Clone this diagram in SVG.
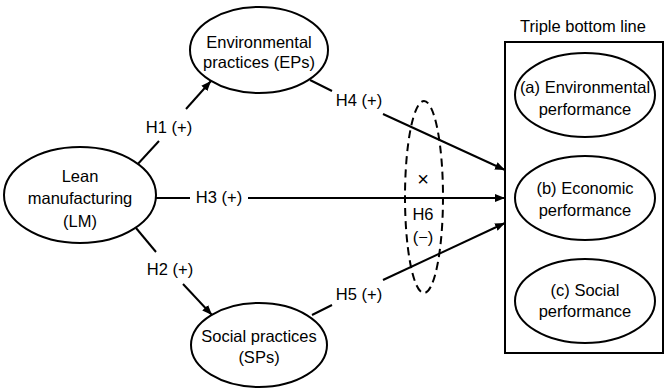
<svg xmlns="http://www.w3.org/2000/svg" width="666" height="389" viewBox="0 0 666 389">
<defs>
<marker id="arr" viewBox="0 0 10 10" refX="10" refY="5" markerWidth="5" markerHeight="5" orient="auto" markerUnits="strokeWidth">
<path d="M0,1 L10,5 L0,9 z" fill="#000"/>
</marker>
<style>
.n{fill:#fff;stroke:#000;stroke-width:2}
.t{font-family:"Liberation Sans",Arial,sans-serif;font-size:16.5px;fill:#000;text-anchor:middle}
.c{stroke:#000;stroke-width:2;fill:none}
</style>
</defs>
<rect width="666" height="389" fill="#fff"/>
<g id="connectors">
<line class="c" x1="136" y1="166" x2="159" y2="141"/>
<line class="c" x1="186" y1="109" x2="211" y2="81" marker-end="url(#arr)"/>
<line class="c" x1="136" y1="228" x2="156" y2="252"/>
<line class="c" x1="183" y1="284" x2="212" y2="315" marker-end="url(#arr)"/>
<line class="c" x1="155" y1="198" x2="190" y2="198"/>
<line class="c" x1="248" y1="198" x2="505" y2="198" marker-end="url(#arr)"/>
<line class="c" x1="310" y1="80" x2="332" y2="91"/>
<line class="c" x1="383" y1="114" x2="505" y2="170" marker-end="url(#arr)"/>
<line class="c" x1="312" y1="315" x2="332" y2="305"/>
<line class="c" x1="383" y1="280" x2="505" y2="223" marker-end="url(#arr)"/>
<ellipse cx="424" cy="197" rx="19" ry="96" fill="none" stroke="#000" stroke-width="2" stroke-dasharray="8,5"/>
<text class="t" x="169" y="133">H1 (+)</text>
<text class="t" x="170" y="275">H2 (+)</text>
<text class="t" x="219" y="203">H3 (+)</text>
<text class="t" x="359" y="106">H4 (+)</text>
<text class="t" x="359" y="300">H5 (+)</text>
<text class="t" x="423" y="186" style="font-size:20px">×</text>
<text class="t" x="423" y="220">H6</text>
<text class="t" x="423" y="243">(−)</text>
</g>
<g id="lm">
<ellipse class="n" cx="80" cy="195" rx="76" ry="48"/>
<text class="t" x="80" y="182">Lean</text>
<text class="t" x="80" y="204">manufacturing</text>
<text class="t" x="80" y="227">(LM)</text>
</g>
<g id="eps">
<ellipse class="n" cx="259" cy="50" rx="69" ry="43"/>
<text class="t" x="259" y="48">Environmental</text>
<text class="t" x="259" y="68">practices (EPs)</text>
</g>
<g id="sps">
<ellipse class="n" cx="259" cy="345" rx="68" ry="42"/>
<text class="t" x="259" y="342">Social practices</text>
<text class="t" x="259" y="363">(SPs)</text>
</g>
<g id="tbl">
<text class="t" x="583" y="32">Triple bottom line</text>
<rect x="505" y="42" width="158" height="311" fill="none" stroke="#000" stroke-width="2"/>
</g>
<g id="env-perf">
<ellipse class="n" cx="585" cy="95" rx="70" ry="42"/>
<text class="t" x="585" y="93">(a) Environmental</text>
<text class="t" x="585" y="115">performance</text>
</g>
<g id="eco-perf">
<ellipse class="n" cx="585" cy="198" rx="70" ry="42"/>
<text class="t" x="585" y="194">(b) Economic</text>
<text class="t" x="585" y="216">performance</text>
</g>
<g id="soc-perf">
<ellipse class="n" cx="585" cy="301" rx="70" ry="42"/>
<text class="t" x="585" y="296">(c) Social</text>
<text class="t" x="585" y="317">performance</text>
</g>
</svg>
